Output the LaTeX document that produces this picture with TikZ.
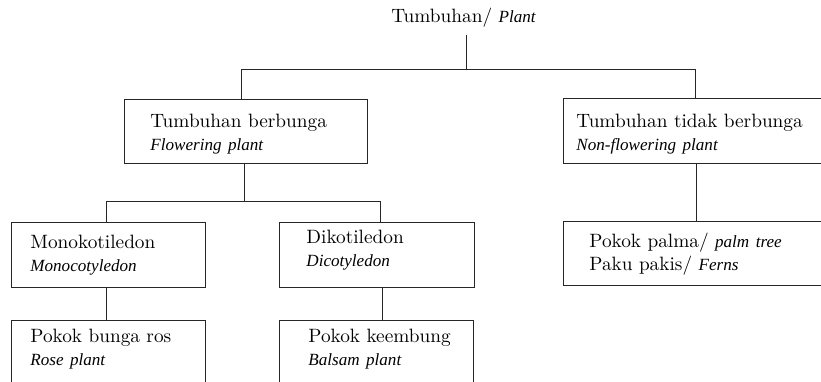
\documentclass[tikz,border=0pt]{standalone}
\usepackage{fontspec}
\setmainfont{lmroman10-regular.otf}[ItalicFont=lmroman10-italic.otf, BoldFont=lmroman10-bold.otf]
\newfontfamily\engfont{Liberation Serif}
\usetikzlibrary{calc}
\newcommand\upsz{\fontsize{19.3}{23.5}\selectfont}
\newcommand\eng[1]{{\engfont\fontsize{17.1}{23.5}\selectfont\itshape #1}}
\begin{document}
\begin{tikzpicture}[x=1pt,y=-1pt,
  box/.style={draw=black!85, line width=0.8pt, anchor=north west,
    inner xsep=0pt, inner ysep=0pt, align=left, font=\upsz, text=black},
  wire/.style={draw=black!85, line width=0.8pt}]
\useasboundingbox (0,0) rectangle (821,382);
\clip (0,0) rectangle (821,382);

% title
\node[font=\upsz, text=black, anchor=base, inner sep=0pt, text depth=12pt] (root) at (463.5,23) {Tumbuhan/ \eng{Plant}};

% level 1
\node[box, text width=243pt, text height=28pt, text depth=36pt] (fp) at (124,99)
  {\hspace*{26pt}Tumbuhan berbunga\\\hspace*{26pt}\eng{Flowering plant}};
\node[box, text width=264pt, text height=29pt, text depth=36pt] (nf) at (563,98)
  {\hspace*{13pt}Tumbuhan tidak berbunga\\\hspace*{13pt}\eng{Non-flowering plant}};

% level 2
\node[box, text width=194pt, text height=26pt, text depth=39pt] (mono) at (11,222)
  {\hspace*{19pt}Monokotiledon\\\hspace*{19pt}\eng{Monocotyledon}};
\node[box, text width=195pt, text height=21pt, text depth=44pt] (di) at (279,222)
  {\hspace*{27pt}Dikotiledon\\\hspace*{27pt}\eng{Dicotyledon}};
\node[box, text width=264pt, text height=26pt, text depth=38pt] (palm) at (563,221)
  {\hspace*{26pt}Pokok palma/ \eng{palm tree}\\\hspace*{26pt}Paku pakis/ \eng{Ferns}};

% level 3
\node[box, text width=194pt, text height=22pt, text depth=58pt] (rose) at (11,320)
  {\hspace*{19pt}Pokok bunga ros\\\hspace*{19pt}\eng{Rose plant}};
\node[box, text width=194pt, text height=22pt, text depth=58pt] (balsam) at (279,320)
  {\hspace*{29pt}Pokok keembung\\\hspace*{29pt}\eng{Balsam plant}};

% connectors
\coordinate (j0) at (466,69);
\coordinate (j0L) at (241,69);
\coordinate (j0R) at (695,69);
\draw[wire] (root.south -| j0) -- (j0);
\draw[wire] (j0L |- fp.north) -- (j0L) -- (j0R) -- (j0R |- nf.north);

\coordinate (j1) at (244,201);
\coordinate (j1L) at (106,201);
\coordinate (j1R) at (380,201);
\draw[wire] (fp.south -| j1) -- (j1);
\draw[wire] (j1L |- mono.north) -- (j1L) -- (j1R) -- (j1R |- di.north);

\coordinate (k1) at (106,300);
\coordinate (k2) at (382,300);
\coordinate (k3) at (696,200);
\draw[wire] (mono.south -| k1) -- (rose.north -| k1);
\draw[wire] (di.south -| k2) -- (balsam.north -| k2);
\draw[wire] (nf.south -| k3) -- (palm.north -| k3);
\end{tikzpicture}
\end{document}
